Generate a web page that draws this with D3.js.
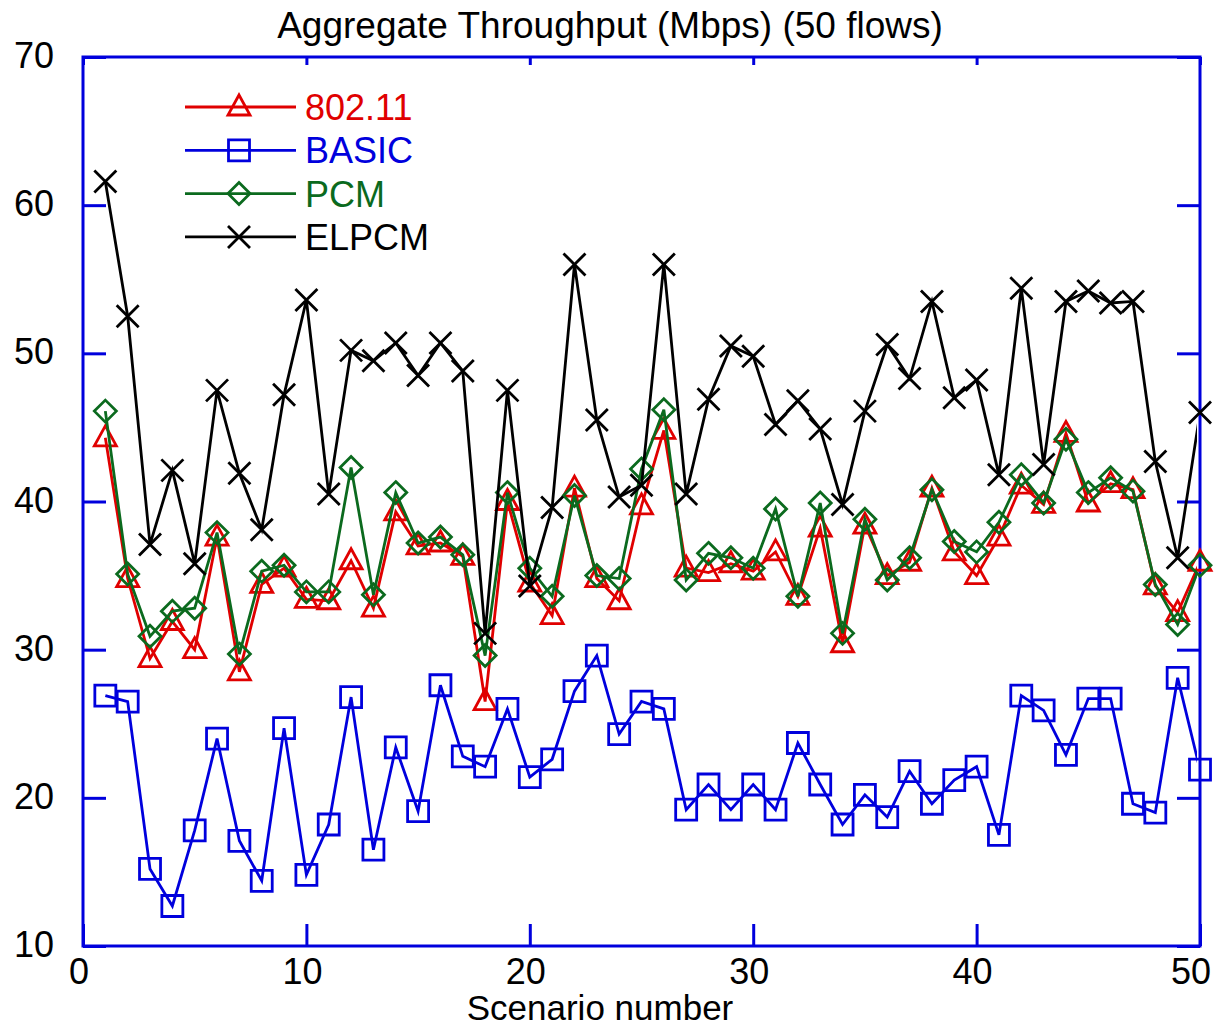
<!DOCTYPE html>
<html>
<head>
<meta charset="utf-8">
<script src="https://cdn.jsdelivr.net/npm/d3@7"></script>
<style>
  body { margin: 0; background: #fff; }
  text { font-family: "Liberation Sans", Arial, sans-serif; }
</style>
</head>
<body>
<svg id="chart" width="1217" height="1029"></svg>
<script>
// Chart data
const scenarios = d3.range(1, 51);
const xTicks = [0, 10, 20, 30, 40, 50];
const yTicks = [10, 20, 30, 40, 50, 60, 70];

const ieee80211 = [44.3,34.8,29.4,31.9,30.0,37.6,28.5,34.4,35.5,33.4,33.3,36.0,32.8,39.3,37.0,37.2,36.3,26.5,40.0,34.5,
  32.3,40.9,34.8,33.3,39.7,44.8,35.5,35.2,35.8,35.3,36.6,33.6,38.2,30.4,38.4,35.0,35.9,40.9,36.6,35.0,
  37.6,41.1,39.8,44.6,39.9,41.2,40.8,34.3,32.5,35.9];
const basic = [26.9,26.5,15.2,12.7,17.8,24.0,17.1,14.4,24.7,14.8,18.2,26.8,16.5,23.4,19.1,27.6,22.8,22.1,26.0,21.4,
  22.6,27.2,29.6,24.3,26.5,26.0,19.2,20.9,19.2,20.9,19.2,23.7,20.9,18.2,20.2,18.7,21.8,19.6,21.2,22.1,
  17.5,26.9,25.9,22.9,26.7,26.7,19.6,19.0,28.1,21.9];
const pcm = [46.1,35.1,30.9,32.6,32.8,37.9,29.7,35.3,35.7,33.9,33.9,42.3,33.7,40.6,37.2,37.6,36.4,29.6,40.6,35.5,
  33.6,40.4,35.0,34.8,42.2,46.2,34.7,36.5,36.2,35.5,39.5,33.6,39.9,31.1,38.8,34.7,36.2,40.8,37.3,36.6,
  38.6,41.8,39.9,44.2,40.6,41.6,40.7,34.4,31.7,35.7];
const elpcm = [61.6,52.5,37.1,42.1,35.8,47.5,41.9,38.1,47.2,53.6,40.5,50.2,49.5,50.7,48.5,50.7,48.8,31.1,47.5,34.3,
  39.6,56.0,45.5,40.3,41.1,56.0,40.5,46.9,50.5,49.8,45.2,46.8,44.9,39.8,46.1,50.6,48.3,53.5,47.0,48.2,
  41.8,54.4,42.5,53.5,54.2,53.4,53.5,42.7,36.2,46.0];

const seriesNames = ["802.11", "BASIC", "PCM", "ELPCM"];
const seriesColors = ["#e00000", "#0000dd", "#0b6a1e", "#000000"];
const seriesMarkers = ["triangle", "square", "diamond", "cross"];
const seriesValues = [ieee80211, basic, pcm, elpcm];

const svg = d3.select("#chart");
const margin = { left: 83, right: 17, top: 57, bottom: 83 };
const W = 1217, H = 1029;
const axisColor = "#0000dd";

const x = d3.scaleLinear().domain([0, 50]).range([margin.left, W - margin.right]);
const y = d3.scaleLinear().domain([10, 70]).range([H - margin.bottom, margin.top]);

// marker shapes drawn around (0,0)
function markerPath(kind) {
  if (kind === "triangle") return "M0,-12L11,8L-11,8Z";
  if (kind === "square") return "M-10.5,-10.5H10.5V10.5H-10.5Z";
  if (kind === "diamond") return "M0,-11L11,0L0,11L-11,0Z";
  return "M-11,-11L11,11M11,-11L-11,11";
}

// axes box
const x0 = x(0), x1 = x(50), y0 = y(10), y1 = y(70);
svg.append("rect")
  .attr("x", x0).attr("y", y1)
  .attr("width", x1 - x0).attr("height", y0 - y1)
  .attr("fill", "none").attr("stroke", axisColor).attr("stroke-width", 3);

const xAxisB = d3.axisBottom(x).tickValues(xTicks).tickSize(-22).tickFormat("");
const xAxisT = d3.axisTop(x).tickValues(xTicks).tickSize(-8).tickFormat("");
const yAxisL = d3.axisLeft(y).tickValues(yTicks).tickSize(-23).tickFormat("");
const yAxisR = d3.axisRight(y).tickValues(yTicks).tickSize(-23).tickFormat("");

[[xAxisB, `translate(0,${y0})`], [xAxisT, `translate(0,${y1})`],
 [yAxisL, `translate(${x0},0)`], [yAxisR, `translate(${x1},0)`]].forEach(([ax, tr]) => {
  const g = svg.append("g").attr("transform", tr).call(ax);
  g.select(".domain").remove();
  g.selectAll(".tick line").attr("stroke", axisColor).attr("stroke-width", 3);
});

// tick labels
svg.append("g").selectAll("text")
  .data(xTicks).join("text")
  .attr("x", d => d === 50 ? 1211 : x(d) - 4).attr("y", 984)
  .attr("text-anchor", d => d === 50 ? "end" : "middle")
  .style("font-size", "36px")
  .text(d => d);

svg.append("g").selectAll("text")
  .data(yTicks).join("text")
  .attr("x", 54).attr("y", d => y(d) + 11)
  .attr("text-anchor", "end")
  .style("font-size", "36px")
  .text(d => d);

// title and x label
svg.append("text")
  .attr("x", 610).attr("y", 38)
  .attr("text-anchor", "middle")
  .style("font-size", "37px")
  .text("Aggregate Throughput (Mbps) (50 flows)");

svg.append("text")
  .attr("x", 600).attr("y", 1020)
  .attr("text-anchor", "middle")
  .style("font-size", "35px")
  .text("Scenario number");

// clip lines just inside right axis
svg.append("defs").append("clipPath").attr("id", "plot-clip")
  .append("rect").attr("x", x0).attr("y", 0).attr("width", x1 - x0 - 3).attr("height", H);

const line = d3.line()
  .x((d, i) => x(scenarios[i]))
  .y(d => y(d));

seriesValues.forEach((vals, s) => {
  svg.append("path")
    .datum(vals)
    .attr("clip-path", "url(#plot-clip)")
    .attr("fill", "none")
    .attr("stroke", seriesColors[s])
    .attr("stroke-width", 2.8)
    .attr("d", line);

  svg.append("g").selectAll("path")
    .data(vals).join("path")
    .attr("transform", (d, i) => `translate(${x(scenarios[i])},${y(d)})`)
    .attr("d", markerPath(seriesMarkers[s]))
    .attr("fill", "none")
    .attr("stroke", seriesColors[s])
    .attr("stroke-width", 2.8);
});

// legend
const legend = svg.append("g").attr("transform", "translate(185,107)");
seriesNames.forEach((name, i) => {
  const row = legend.append("g").attr("transform", `translate(0,${i * 43.3})`);
  row.append("line")
    .attr("x1", 0).attr("x2", 111)
    .attr("stroke", seriesColors[i]).attr("stroke-width", 2.8);
  row.append("path")
    .attr("transform", "translate(54,0)")
    .attr("d", markerPath(seriesMarkers[i]))
    .attr("fill", "none")
    .attr("stroke", seriesColors[i]).attr("stroke-width", 2.8);
  row.append("text")
    .attr("x", 120).attr("y", 13)
    .style("font-size", "36px")
    .attr("fill", seriesColors[i])
    .text(name);
});
</script>
</body>
</html>
